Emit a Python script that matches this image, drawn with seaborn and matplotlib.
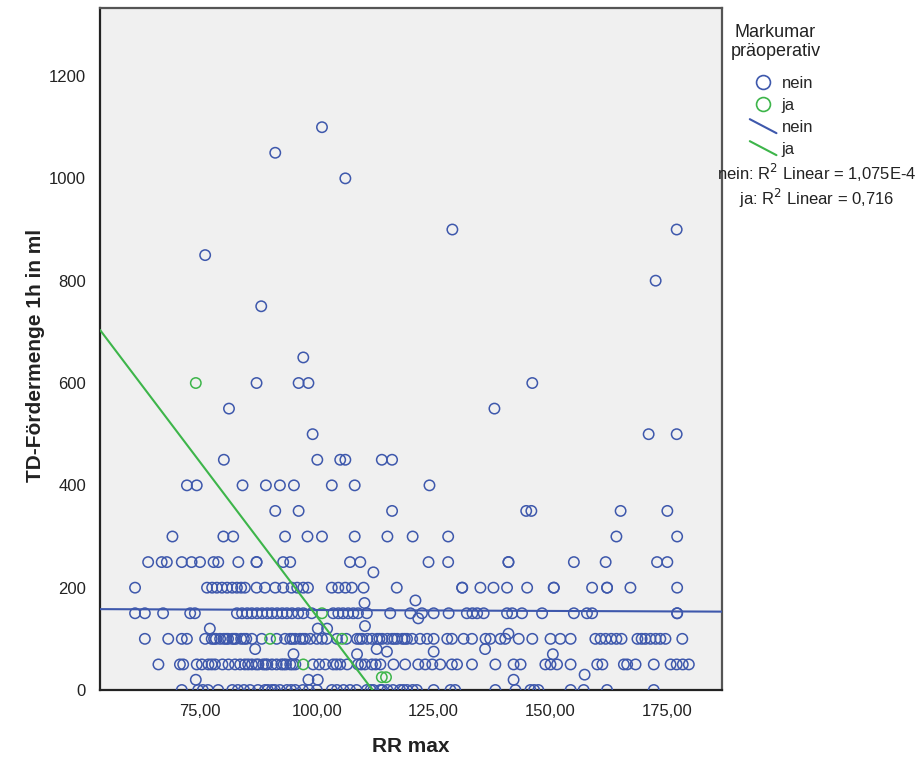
import numpy as np
import pandas as pd
import matplotlib
matplotlib.use("Agg")
import matplotlib.pyplot as plt
from matplotlib.lines import Line2D
from matplotlib.legend_handler import HandlerBase
from matplotlib.ticker import FixedLocator, FuncFormatter
import seaborn as sns

# ---------------------------------------------------------------
# Data: RR max (x) per TD-Fördermenge 1h (ml) level, group "nein"
# ---------------------------------------------------------------
nein_0 = [71.1, 74.6, 75.6, 76.7, 78.9, 81.9, 83.1, 84.4,
          85.7, 87.4, 88.9, 89.5, 90.4, 91.0, 92.1, 93.6, 94.5, 95.4, 97.0,
          98.3, 100.0, 103.2, 104.3, 105.7, 107.1, 108.5, 110.7, 111.5, 112.1,
          113.6, 114.0, 115.1, 116.3, 117.8, 118.5, 119.3, 120.5, 121.4, 125.0,
          128.6, 129.6, 138.2, 142.5, 145.7, 146.5, 147.4, 154.3, 157.1, 162.1,
          172.1]
nein_50 = [66.1, 70.7, 71.4, 74.3, 75.4, 76.8, 77.5, 78.2, 79.8, 81.1, 82.5, 83.6,
           84.6, 85.3, 86.1, 87.0, 87.5, 88.5, 89.0, 89.4, 90.4, 91.4, 92.4, 92.9,
           93.4, 94.3, 94.8, 95.4, 99.2, 100.5, 101.8, 103.5, 104.2, 105.0, 106.5,
           108.8, 109.5, 110.3, 111.8, 112.6, 113.6, 116.4, 118.9, 121.7, 123.2,
           124.7, 126.4, 128.9, 130.0, 133.2, 138.2, 142.1, 143.6, 148.9, 150.0,
           151.4, 154.3, 160.0, 161.1, 165.7, 166.4, 168.2, 172.1, 175.7, 177.0,
           178.3, 179.6]
nein_100 = [63.2, 68.2, 71.1, 72.2, 76.1, 77.5, 78.0, 78.4, 79.3, 80.1, 80.6, 81.0,
            81.9, 82.3, 82.7, 83.8, 84.4, 84.9, 86.1, 88.2, 91.4, 93.2, 94.3, 94.8,
            95.4, 96.4, 97.0, 97.5, 98.6, 100.0, 101.1, 102.1, 104.3, 106.3, 108.6,
            109.2, 109.7, 110.8, 111.8, 112.9, 113.4, 114.0, 115.1, 116.1, 116.6,
            117.2, 118.3, 118.8, 119.3, 120.4, 122.1, 123.6, 125.0, 127.9, 128.9,
            131.4, 133.2, 136.1, 137.1, 139.3, 140.3, 143.2, 146.1, 150.0, 152.1,
            154.3, 159.6, 160.7, 161.8, 163.0, 164.1, 165.2, 168.6, 169.5, 170.3,
            171.4, 172.5, 173.5, 174.6, 178.2]
nein_150 = [61.1, 63.2, 67.1, 72.9, 73.9, 82.9, 84.0, 85.1, 86.1, 87.2, 88.3, 89.4,
            90.4, 91.5, 92.6, 93.6, 94.7, 96.0, 97.1, 98.9, 103.5, 104.6, 105.6,
            106.7, 107.8, 108.8, 110.7, 115.7, 120.0, 122.5, 125.0, 128.2, 132.1,
            133.3, 134.3, 135.7, 140.7, 141.8, 143.9, 148.2, 155.0, 157.8, 158.9,
            177.1, 177.1]
nein_200 = [61.1, 76.5, 77.6, 78.6, 79.7, 80.8, 81.9, 82.9, 83.8, 84.6, 87.1, 88.9,
            91.1, 92.8, 94.6, 95.8, 97.1, 98.1, 103.2, 104.6, 106.1, 107.5, 110.0,
            117.1, 131.1, 131.1, 135.0, 137.8, 140.7, 145.0, 150.7, 150.7, 158.9,
            162.1, 162.1, 167.1, 177.1]
nein_250 = [63.9, 66.8, 67.9, 71.1, 73.2, 75.0, 77.9, 78.9, 83.2, 87.1, 87.1, 92.8,
            94.3, 107.1, 109.3, 123.9, 128.1, 141.0, 141.0, 155.0, 161.8, 172.8, 175.0]
nein_300 = [69.1, 80.0, 82.1, 93.2, 98.0, 101.1, 108.1, 115.1, 120.5, 128.1, 164.1, 177.1]
nein_350 = [91.1, 96.1, 116.1, 144.8, 145.9, 165.0, 175.0]
nein_400 = [72.2, 74.3, 84.1, 89.1, 92.1, 95.1, 103.2, 108.1, 124.1]
nein_450 = [80.1, 100.1, 105.0, 106.1, 113.9, 116.1]
nein_500 = [99.1, 171.0, 177.0]
nein_550 = [81.2, 138.0]
nein_600 = [87.1, 96.1, 98.2, 146.1]
nein_650 = [97.1]
nein_750 = [88.1]
nein_800 = [172.5]
nein_850 = [76.1]
nein_900 = [129.0, 177.0]
nein_1000 = [106.1]
nein_1050 = [91.1]
nein_1100 = [101.1]

# points of the "nein" group with volumes between the regular steps
nein_rr_other = [77.1, 86.8, 95.0, 74.1, 98.2, 100.2, 100.2, 102.2, 110.2, 110.3,
                 112.1, 108.6, 112.8, 115.0, 121.1, 121.7, 125.0, 136.0, 141.0,
                 142.1, 150.5, 157.3]
nein_td_other = [120, 80, 70, 20, 20, 20, 120, 120, 170, 125,
                 230, 70, 80, 75, 175, 140, 75, 80, 110,
                 20, 70, 30]

# group "ja"
ja_rr = [74.1, 90.0, 97.1, 101.1, 105.4, 113.9, 114.8]
ja_td = [600, 100, 50, 150, 100, 25, 25]

nein_levels = {0: nein_0, 50: nein_50, 100: nein_100, 150: nein_150, 200: nein_200,
               250: nein_250, 300: nein_300, 350: nein_350, 400: nein_400,
               450: nein_450, 500: nein_500, 550: nein_550, 600: nein_600,
               650: nein_650, 750: nein_750, 800: nein_800, 850: nein_850,
               900: nein_900, 1000: nein_1000, 1050: nein_1050, 1100: nein_1100}

x_ticks = [75, 100, 125, 150, 175]
y_ticks = [0, 200, 400, 600, 800, 1000, 1200]
legend_title = "Markumar\npräoperativ"
r2_labels = ["nein: R$^2$ Linear = 1,075E-4", "ja: R$^2$ Linear = 0,716"]

rows = []
for td, rr_list in nein_levels.items():
    rows += [(rr, td, "nein") for rr in rr_list]
rows += [(rr, td, "nein") for rr, td in zip(nein_rr_other, nein_td_other)]
rows += [(rr, td, "ja") for rr, td in zip(ja_rr, ja_td)]
df = pd.DataFrame(rows, columns=["RR max", "TD-Fördermenge 1h in ml", "Markumar präoperativ"])

# ---------------------------------------------------------------
sns.set_style("white")
plt.rcParams["font.family"] = ["Liberation Sans", "DejaVu Sans"]

colors = {"nein": "#3E58AC", "ja": "#3DB54A"}
ink = "#222222"
bg = "#F0F0F0"

fig = plt.figure(figsize=(9.2, 7.6), dpi=100)
ax = fig.add_axes([0.1087, 0.0921, 0.6761, 0.8974])
ax.set_facecolor(bg)
xlim = (53.6, 186.7)
ylim = (0, 1333)
ax.set_xlim(*xlim)
ax.set_ylim(*ylim)

xcol, ycol, gcol = df.columns
for grp in ["nein", "ja"]:
    sub = df[df[gcol] == grp]
    n_before = len(ax.collections)
    sns.scatterplot(data=sub, x=xcol, y=ycol, ax=ax, s=56, linewidth=1.1,
                    color=colors[grp], legend=False, zorder=3)
    coll = ax.collections[n_before]
    coll.set_facecolor("none")
    coll.set_edgecolor(colors[grp])

# linear fits over the full x range of the axes
for grp in ["nein", "ja"]:
    sub = df[df[gcol] == grp]
    sns.regplot(data=sub, x=xcol, y=ycol, ax=ax, scatter=False, ci=None,
                truncate=False, color=colors[grp],
                line_kws=dict(lw=1.5, zorder=4))

ax.set_xlim(*xlim)
ax.set_ylim(*ylim)

# axes styling
for side in ["left", "bottom"]:
    ax.spines[side].set_color(ink)
    ax.spines[side].set_linewidth(1.6)
for side in ["top", "right"]:
    ax.spines[side].set_color("#555555")
    ax.spines[side].set_linewidth(1.6)

ax.xaxis.set_major_locator(FixedLocator(x_ticks))
ax.yaxis.set_major_locator(FixedLocator(y_ticks))
ax.xaxis.set_major_formatter(FuncFormatter(lambda v, p: f"{v:.2f}".replace(".", ",")))
ax.yaxis.set_major_formatter(FuncFormatter(lambda v, p: f"{v:.0f}"))
ax.tick_params(axis="both", direction="out", length=8, width=1.6, color=ink,
               labelsize=12, labelcolor=ink, pad=2)

ax.set_xlabel("RR max", fontsize=15, fontweight="bold", color=ink)
ax.set_ylabel("TD-Fördermenge 1h in ml", fontsize=15, fontweight="bold", color=ink)
ax.xaxis.set_label_coords(0.5, -0.069)
ax.yaxis.set_label_coords(-0.088, 0.49)


class DiagonalLineHandler(HandlerBase):
    def create_artists(self, legend, orig_handle, xdescent, ydescent, width,
                       height, fontsize, trans):
        line = Line2D([-xdescent, -xdescent + width],
                      [-ydescent + height * 1.1, -ydescent - height * 0.1],
                      color=orig_handle.get_color(),
                      lw=orig_handle.get_linewidth())
        line.set_transform(trans)
        return [line]


fig.text(0.843, 0.969, legend_title, ha="center", va="top", fontsize=13,
         color=ink, linespacing=1.15)

handles = [
    Line2D([], [], ls="", marker="o", ms=10, mfc="none", mec=colors["nein"], mew=1.2),
    Line2D([], [], ls="", marker="o", ms=10, mfc="none", mec=colors["ja"], mew=1.2),
    Line2D([], [], color=colors["nein"], lw=1.5),
    Line2D([], [], color=colors["ja"], lw=1.5),
]
labels = ["nein", "ja", "nein", "ja"]
handler_map = {handles[2]: DiagonalLineHandler(), handles[3]: DiagonalLineHandler()}
leg = fig.legend(handles, labels, handler_map=handler_map, loc="upper left",
                 bbox_to_anchor=(0.815, 0.9), frameon=False, fontsize=12,
                 handlelength=1.6, handletextpad=0.3, labelspacing=0.42,
                 borderaxespad=0, borderpad=0)

fig.text(0.888, 0.772, r2_labels[0], ha="center", va="center", fontsize=12, color=ink)
fig.text(0.888, 0.739, r2_labels[1], ha="center", va="center", fontsize=12, color=ink)

fig.savefig("out.png", dpi=100, facecolor="white")
